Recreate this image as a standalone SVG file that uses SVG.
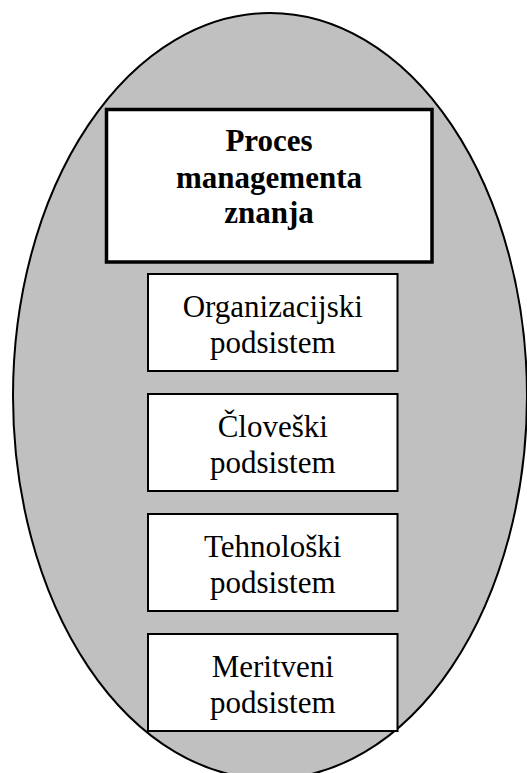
<svg xmlns="http://www.w3.org/2000/svg" width="527" height="773" viewBox="0 0 527 773">
<style>
.bg{fill:#ffffff}
.oval{fill:#c0c0c0;stroke:#000;stroke-width:2}
.main{fill:#fff;stroke:#000;stroke-width:3.5}
.sub{fill:#fff;stroke:#000;stroke-width:2}
.tb{font-family:"Liberation Serif","Times New Roman",serif;font-size:31px;font-weight:bold;text-anchor:middle;fill:#000}
.t{font-family:"Liberation Serif","Times New Roman",serif;font-size:31px;text-anchor:middle;fill:#000}
</style>
<rect class="bg" x="0" y="0" width="527" height="773"/>
<g id="ellipse"><ellipse class="oval" cx="270" cy="396" rx="257" ry="383"/></g>
<g id="proces">
<rect class="main" x="106.5" y="109.5" width="325.5" height="152.5"/>
<text class="tb" x="269" y="151">Proces</text>
<text class="tb" x="269" y="188">managementa</text>
<text class="tb" x="269" y="223">znanja</text>
</g>
<g id="organizacijski">
<rect class="sub" x="148" y="274" width="249.5" height="97"/>
<text class="t" x="272.75" y="317">Organizacijski</text>
<text class="t" x="272.75" y="352.5">podsistem</text>
</g>
<g id="cloveski">
<rect class="sub" x="148" y="394" width="249.5" height="97"/>
<text class="t" x="272.75" y="437">Človeški</text>
<text class="t" x="272.75" y="472.5">podsistem</text>
</g>
<g id="tehnoloski">
<rect class="sub" x="148" y="514" width="249.5" height="97"/>
<text class="t" x="272.75" y="557">Tehnološki</text>
<text class="t" x="272.75" y="592.5">podsistem</text>
</g>
<g id="meritveni">
<rect class="sub" x="148" y="634" width="249.5" height="97"/>
<text class="t" x="272.75" y="677">Meritveni</text>
<text class="t" x="272.75" y="712.5">podsistem</text>
</g>
<g id="connectors"></g>
</svg>
